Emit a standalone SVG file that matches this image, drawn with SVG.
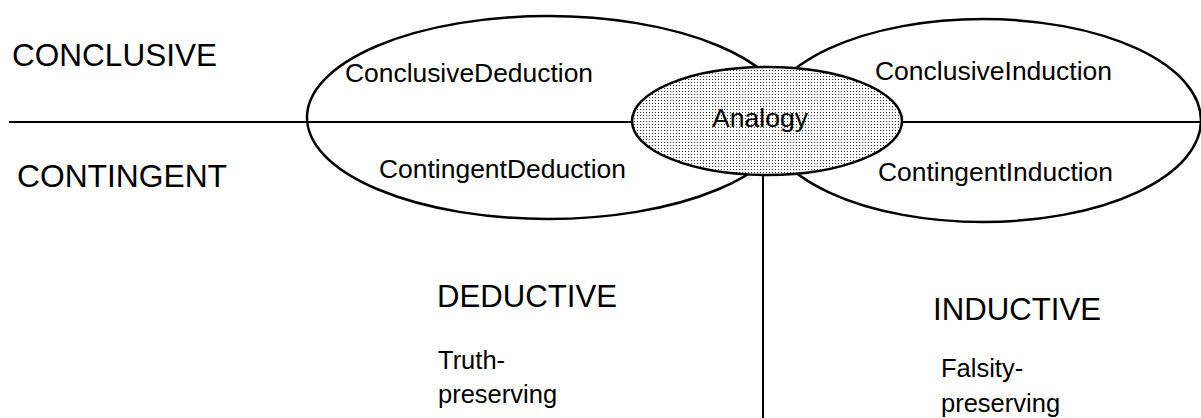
<svg xmlns="http://www.w3.org/2000/svg" width="1201" height="418" viewBox="0 0 1201 418">
  <defs>
    <pattern id="stipple" x="0" y="0" width="3" height="3" patternUnits="userSpaceOnUse">
      <rect x="0" y="0" width="3" height="3" fill="#ffffff"/>
      <rect x="1" y="1" width="1" height="1" fill="#333333"/>
    </pattern>
  </defs>
  <style>
    text { font-family: "Liberation Sans", Arial, sans-serif; fill: #000; }
    .big { font-size: 32px; }
    .mid { font-size: 26.6px; }
    .small { font-size: 25.5px; }
    .outline { fill: none; stroke: #000; stroke-width: 2.5; }
    .line { stroke: #000; stroke-width: 2; fill: none; }
  </style>
  <rect width="1201" height="418" fill="#ffffff"/>

  <g id="connectors">
    <line class="line" x1="9" y1="122" x2="1201" y2="122"/>
    <line class="line" x1="763" y1="176" x2="763" y2="418"/>
  </g>

  <g id="deduction-ellipse">
    <ellipse class="outline" cx="548" cy="117.5" rx="241" ry="101.5"/>
    <text class="mid" x="345" y="82" textLength="248" lengthAdjust="spacingAndGlyphs">ConclusiveDeduction</text>
    <text class="mid" x="379" y="177.5" textLength="247" lengthAdjust="spacingAndGlyphs">ContingentDeduction</text>
  </g>

  <g id="induction-ellipse">
    <ellipse class="outline" cx="983" cy="120.5" rx="218" ry="101.5"/>
    <text class="mid" x="875" y="80" textLength="237" lengthAdjust="spacingAndGlyphs">ConclusiveInduction</text>
    <text class="mid" x="878" y="181" textLength="235" lengthAdjust="spacingAndGlyphs">ContingentInduction</text>
  </g>

  <g id="analogy">
    <ellipse cx="767" cy="121" rx="135" ry="54" fill="url(#stipple)" stroke="#000" stroke-width="2.5"/>
    <text class="mid" x="712" y="126.5" textLength="96" lengthAdjust="spacingAndGlyphs">Analogy</text>
  </g>

  <g id="conclusive-label">
    <text class="big" x="12" y="66" textLength="205" lengthAdjust="spacingAndGlyphs">CONCLUSIVE</text>
  </g>
  <g id="contingent-label">
    <text class="big" x="17" y="187" textLength="210" lengthAdjust="spacingAndGlyphs">CONTINGENT</text>
  </g>

  <g id="deductive-label">
    <text class="big" x="437" y="307" textLength="180" lengthAdjust="spacingAndGlyphs">DEDUCTIVE</text>
    <text class="small" x="438" y="369">Truth-</text>
    <text class="small" x="438" y="403">preserving</text>
  </g>

  <g id="inductive-label">
    <text class="big" x="933" y="320" textLength="168" lengthAdjust="spacingAndGlyphs">INDUCTIVE</text>
    <text class="small" x="941" y="377">Falsity-</text>
    <text class="small" x="941" y="412">preserving</text>
  </g>
</svg>
